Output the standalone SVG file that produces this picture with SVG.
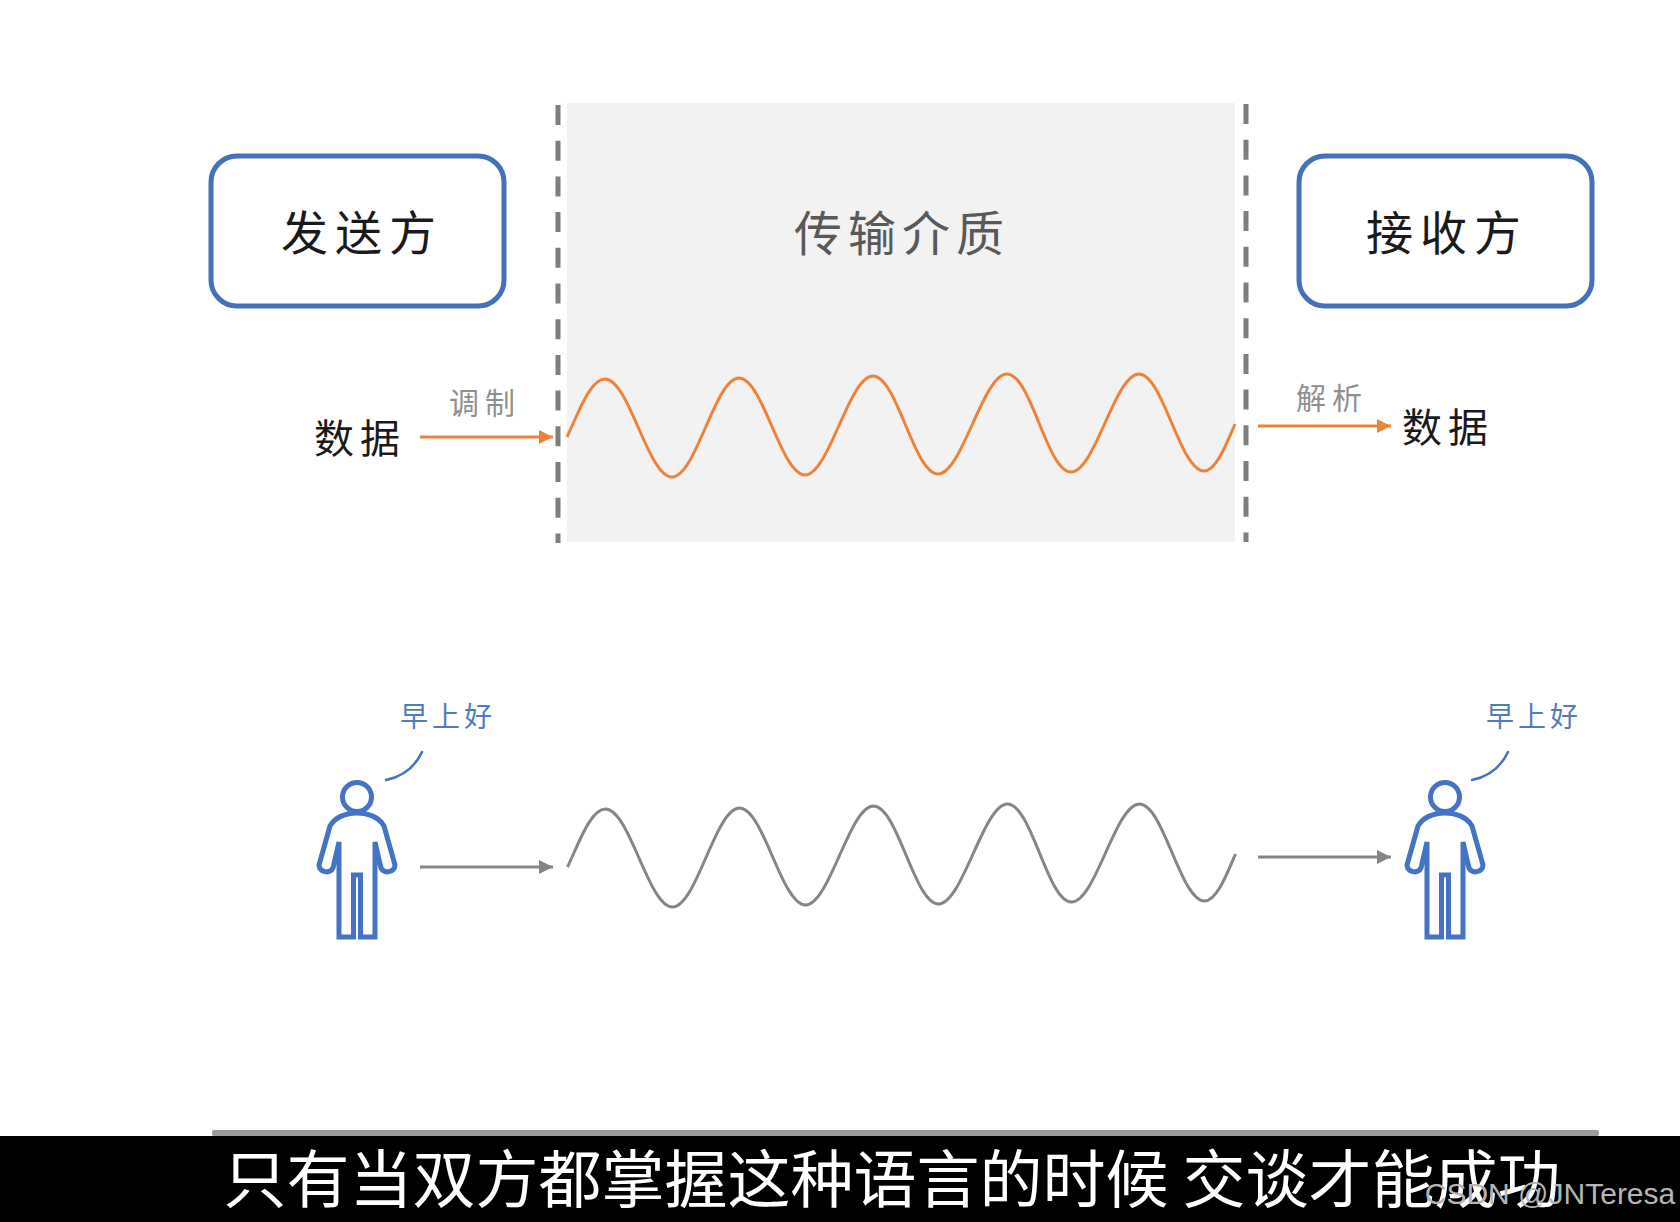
<svg xmlns="http://www.w3.org/2000/svg" width="1680" height="1222" viewBox="0 0 1680 1222">
<style>
text{font-family:"Noto Sans CJK SC","Noto Sans",sans-serif;text-anchor:middle}
.box{fill:#fff;stroke:#4472b8;stroke-width:5}
.black{fill:#1a1a1a}
.big{font-size:47px;letter-spacing:7px;font-weight:400}
.data{font-size:40px;letter-spacing:6px;font-weight:400}
.soft{fill:#8f8f8f;font-size:30px;letter-spacing:6px;font-weight:400}
.hello{fill:#4f7cc0;font-size:28px;letter-spacing:4px;font-weight:400}
.dash{stroke:#7f7f7f;stroke-width:5;stroke-dasharray:20 15.7;fill:none}
.wave{fill:none;stroke-width:3}
.orange{stroke:#ed8238}
.gray{stroke:#858585}
.arrow{stroke-width:3;fill:none}
.person{fill:none;stroke:#4472c4;stroke-width:5;stroke-linejoin:miter}
.bubble{fill:none;stroke:#4472c4;stroke-width:2.500;stroke-linecap:round}
</style>
<defs>
<marker id="ao" markerUnits="userSpaceOnUse" markerWidth="15" markerHeight="16" refX="14" refY="8" orient="auto"><path d="M0 1L14 8L0 15Z" fill="#ed8238"/></marker>
<marker id="ag" markerUnits="userSpaceOnUse" markerWidth="15" markerHeight="16" refX="14" refY="8" orient="auto"><path d="M0 1L14 8L0 15Z" fill="#858585"/></marker>
<path id="sine" d="M567 437C578 414 590 379 605 379C629 379 648 477 672 477C696 477 715 378 739 378C763 378 781 475 805 475C829 475 849 376 873 376C897 376 914 474 938 474C962 474 983 374 1007 374C1031 374 1047 472 1071 472C1095 472 1115 374 1139 374C1163 374 1180 471 1204 471C1216 471 1226 445 1235 424"/>
<g id="man">
<circle cx="0" cy="797" r="14.500"/>
<path d="M-18 842L-18 937L-3.500 937L-3.500 875L3.500 875L3.500 937L18 937L18 842L24 868A7.500 7.500 0 0 0 38 865L27 826C22 817 11 813 0 813C-11 813 -22 817 -27 826L-38 865A7.500 7.500 0 0 0 -24 868Z"/>
</g>
</defs>
<rect width="1680" height="1222" fill="#fff"/>
<g id="medium">
<rect x="567" y="103" width="668" height="439" fill="#f2f2f2"/>
<text x="902" y="251" font-size="48" letter-spacing="6" fill="#595959" font-weight="400">传输介质</text>
</g>
<g id="boundaries">
<path class="dash" d="M558 105V543"/>
<path class="dash" d="M1246 104V542"/>
</g>
<g id="sender">
<rect class="box" x="211" y="156" width="293" height="150" rx="26"/>
<text class="black big" x="362" y="250">发送方</text>
</g>
<g id="receiver">
<rect class="box" x="1299" y="156" width="293" height="150" rx="26"/>
<text class="black big" x="1447" y="250">接收方</text>
</g>
<g id="data-in"><text class="black data" x="360" y="453">数据</text></g>
<g id="data-out"><text class="black data" x="1448" y="442">数据</text></g>
<g id="label-modulate"><text class="soft" x="485" y="414">调制</text></g>
<g id="label-parse"><text class="soft" x="1332" y="409">解析</text></g>
<g id="connectors">
<use href="#sine" class="wave orange"/>
<use href="#sine" class="wave gray" transform="translate(0.500 430)"/>
<path class="arrow orange" marker-end="url(#ao)" d="M420 437H553"/>
<path class="arrow orange" marker-end="url(#ao)" d="M1258 426H1391"/>
<path class="arrow gray" marker-end="url(#ag)" d="M420 867H553"/>
<path class="arrow gray" marker-end="url(#ag)" d="M1258 857H1391"/>
</g>
<g id="person-left">
<use href="#man" class="person" transform="translate(357 0)"/>
<path class="bubble" d="M422 752Q411 775 386 780"/>
<text class="hello" x="448" y="727">早上好</text>
</g>
<g id="person-right">
<use href="#man" class="person" transform="translate(1445 0)"/>
<path class="bubble" d="M1508 752Q1497 775 1472 780"/>
<text class="hello" x="1534" y="727">早上好</text>
</g>
<g id="caption">
<rect x="0" y="1136" width="1680" height="86" fill="#000"/>
<rect x="212" y="1130" width="1387" height="6" rx="2" fill="#9b9b9b"/>
<text x="892" y="1202" font-size="63" fill="#fff" font-weight="400">只有当双方都掌握这种语言的时候 交谈才能成功</text>
<text x="1550" y="1204" font-size="30" fill="#b5b5b5" style="font-family:'Liberation Sans',sans-serif">CSDN @JNTeresa</text>
</g>
</svg>
